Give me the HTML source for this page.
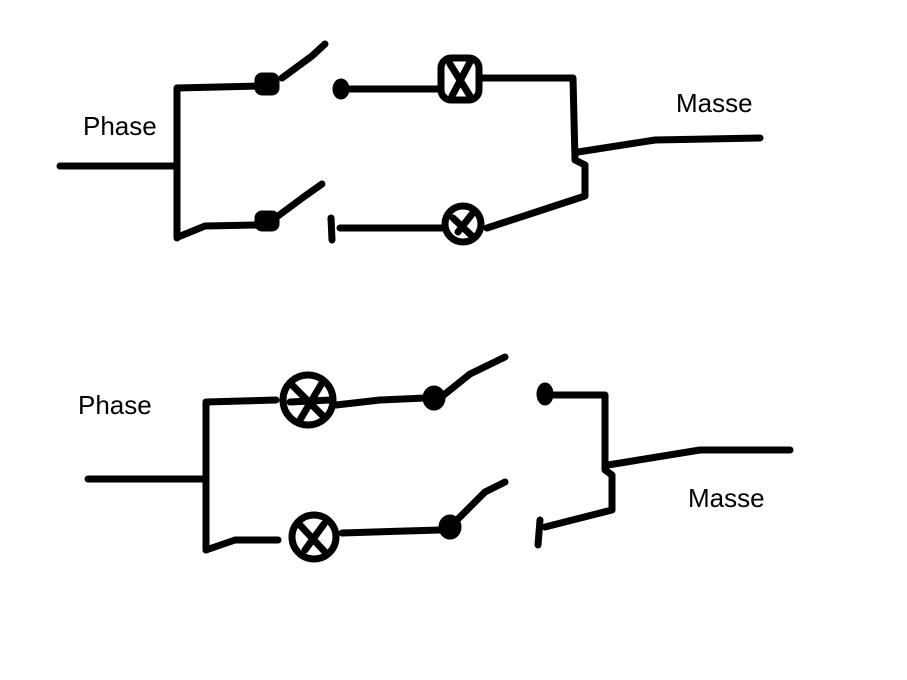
<!DOCTYPE html>
<html><head><style>html,body{margin:0;padding:0;background:#fff}svg{display:block}</style></head><body>
<svg width="907" height="680" viewBox="0 0 907 680" xmlns="http://www.w3.org/2000/svg">
<g fill="none" stroke="#000" stroke-width="7" stroke-linecap="round" stroke-linejoin="round">
<!-- top circuit -->
<path d="M60 166 L175 166"/>
<path d="M177 88 L177 238"/>
<path d="M177 88 L258 86"/>
<rect x="258" y="76" width="18" height="16" rx="4" fill="#000"/>
<path d="M282 78 L312 56 L325 44"/>
<ellipse cx="341" cy="89" rx="5" ry="7" fill="#000"/>
<path d="M350 89 L440 89"/>
<rect x="441" y="58" width="38" height="42" rx="10"/>
<path d="M450 64 L470 96 M470 62 L452 96"/>
<path d="M482 78 L573 78 L575 160 L585 165 L585 195"/>
<path d="M578 152 L655 140 L760 138"/>
<path d="M178 237 L205 226 L258 225"/>
<rect x="258" y="214" width="18" height="14" rx="4" fill="#000"/>
<path d="M278 216 L305 196 L322 184"/>
<path d="M331 218 L332 240"/>
<path d="M340 228 L445 228"/>
<circle cx="463" cy="224" r="18"/>
<path d="M453 218 L472 236 M472 214 L458 232"/>
<path d="M487 228 L585 196"/>
<!-- bottom circuit -->
<path d="M88 479 L205 479"/>
<path d="M206 402 L206 550"/>
<path d="M206 402 L276 400"/>
<circle cx="308" cy="400" r="25"/>
<path d="M292 385 L325 418 M322 383 L300 420 M290 402 L330 400"/>
<path d="M336 405 L380 400 L425 398"/>
<ellipse cx="434" cy="398" rx="8" ry="9" fill="#000"/>
<path d="M440 398 L470 374 L505 357"/>
<ellipse cx="545" cy="394" rx="5" ry="8" fill="#000"/>
<path d="M548 395 L605 395 L605 470 L612 475 L612 510 L545 527"/>
<path d="M608 465 L700 450 L790 450"/>
<path d="M206 550 L235 540 L278 540"/>
<circle cx="314" cy="537" r="22"/>
<path d="M300 525 L325 552 M324 524 L305 550"/>
<path d="M342 533 L440 530"/>
<ellipse cx="450" cy="527" rx="8" ry="9" fill="#000"/>
<path d="M455 522 L485 492 L505 482"/>
<path d="M540 520 L538 545"/>
</g>
<g font-family="Liberation Sans, sans-serif" font-size="26" fill="#000">
<text x="83" y="135">Phase</text>
<text x="676" y="112">Masse</text>
<text x="78" y="414">Phase</text>
<text x="688" y="507">Masse</text>
</g>
</svg>
</body></html>
